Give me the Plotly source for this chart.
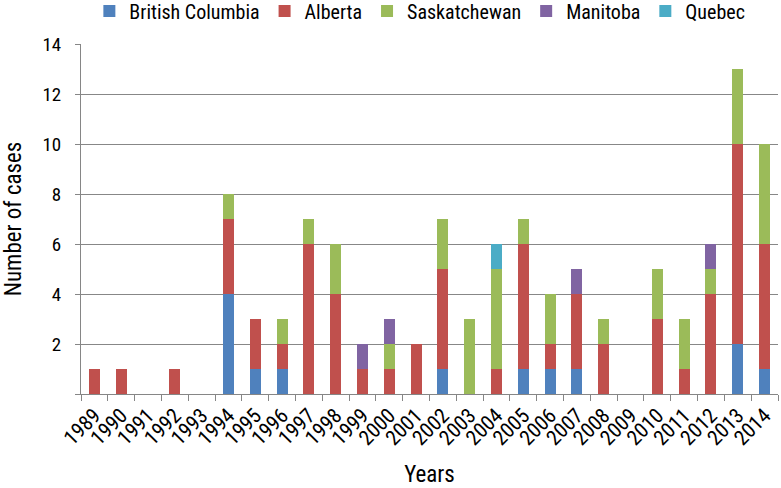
import plotly.graph_objects as go

years = [str(y) for y in range(1989, 2015)]

british_columbia = [0, 0, 0, 0, 0, 4, 1, 1, 0, 0, 0, 0, 0, 1, 0, 0, 1, 1, 1, 0, 0, 0, 0, 0, 2, 1]
alberta = [1, 1, 0, 1, 0, 3, 2, 1, 6, 4, 1, 1, 2, 4, 0, 1, 5, 1, 3, 2, 0, 3, 1, 4, 8, 5]
saskatchewan = [0, 0, 0, 0, 0, 1, 0, 1, 1, 2, 0, 1, 0, 2, 3, 4, 1, 2, 0, 1, 0, 2, 2, 1, 3, 4]
manitoba = [0, 0, 0, 0, 0, 0, 0, 0, 0, 0, 1, 1, 0, 0, 0, 0, 0, 0, 1, 0, 0, 0, 0, 1, 0, 0]
quebec = [0, 0, 0, 0, 0, 0, 0, 0, 0, 0, 0, 0, 0, 0, 0, 1, 0, 0, 0, 0, 0, 0, 0, 0, 0, 0]

y_ticks = [0, 2, 4, 6, 8, 10, 12, 14]
y_tick_text = ["", "2", "4", "6", "8", "10", "12", "14"]

FONT = "Roboto Condensed, DejaVu Sans Condensed, Roboto, sans-serif"
AXIS_GREY = "#868686"

series = [
    ("British Columbia", british_columbia, "#4F81BD"),
    ("Alberta", alberta, "#C0504D"),
    ("Saskatchewan", saskatchewan, "#9BBB59"),
    ("Manitoba", manitoba, "#8064A2"),
    ("Quebec", quebec, "#4BACC6"),
]

fig = go.Figure()
for name, vals, color in series:
    fig.add_trace(go.Bar(
        x=years, y=vals, name=name, marker_color=color,
        marker_line_width=0,
    ))

fig.update_layout(
    barmode="stack", bargap=0.59,
    width=781, height=488,
    margin=dict(l=81, r=3, t=44, b=94, autoexpand=False),
    plot_bgcolor="white", paper_bgcolor="white",
    font=dict(family=FONT, color="#000000"),
    legend=dict(
        orientation="h", x=0.012, y=1.094, xanchor="left", yanchor="middle",
        font=dict(size=20, family=FONT),
        traceorder="normal", bgcolor="rgba(0,0,0,0)",
    ),
)

fig.update_xaxes(
    type="category", tickangle=-45, tickfont=dict(size=21),
    ticks="outside", tickson="boundaries", ticklen=6, tickcolor=AXIS_GREY,
    showline=True, linecolor=AXIS_GREY, linewidth=1, automargin=False,
    title=dict(text="Years", font=dict(size=23), standoff=16),
)
fig.update_yaxes(
    range=[0, 14], tickvals=y_ticks, ticktext=y_tick_text,
    tickfont=dict(size=19), ticklabelstandoff=10,
    showgrid=True, gridcolor="#878787", gridwidth=1,
    showline=True, linecolor=AXIS_GREY, linewidth=1,
    ticks="outside", ticklen=5, tickcolor=AXIS_GREY,
    zeroline=False, automargin=False,
    title=dict(text="Number of cases", font=dict(size=23), standoff=14),
)

fig.write_html(
    "out.html",
    config={"displayModeBar": False},
    post_script="document.body.style.margin='0';",
)
